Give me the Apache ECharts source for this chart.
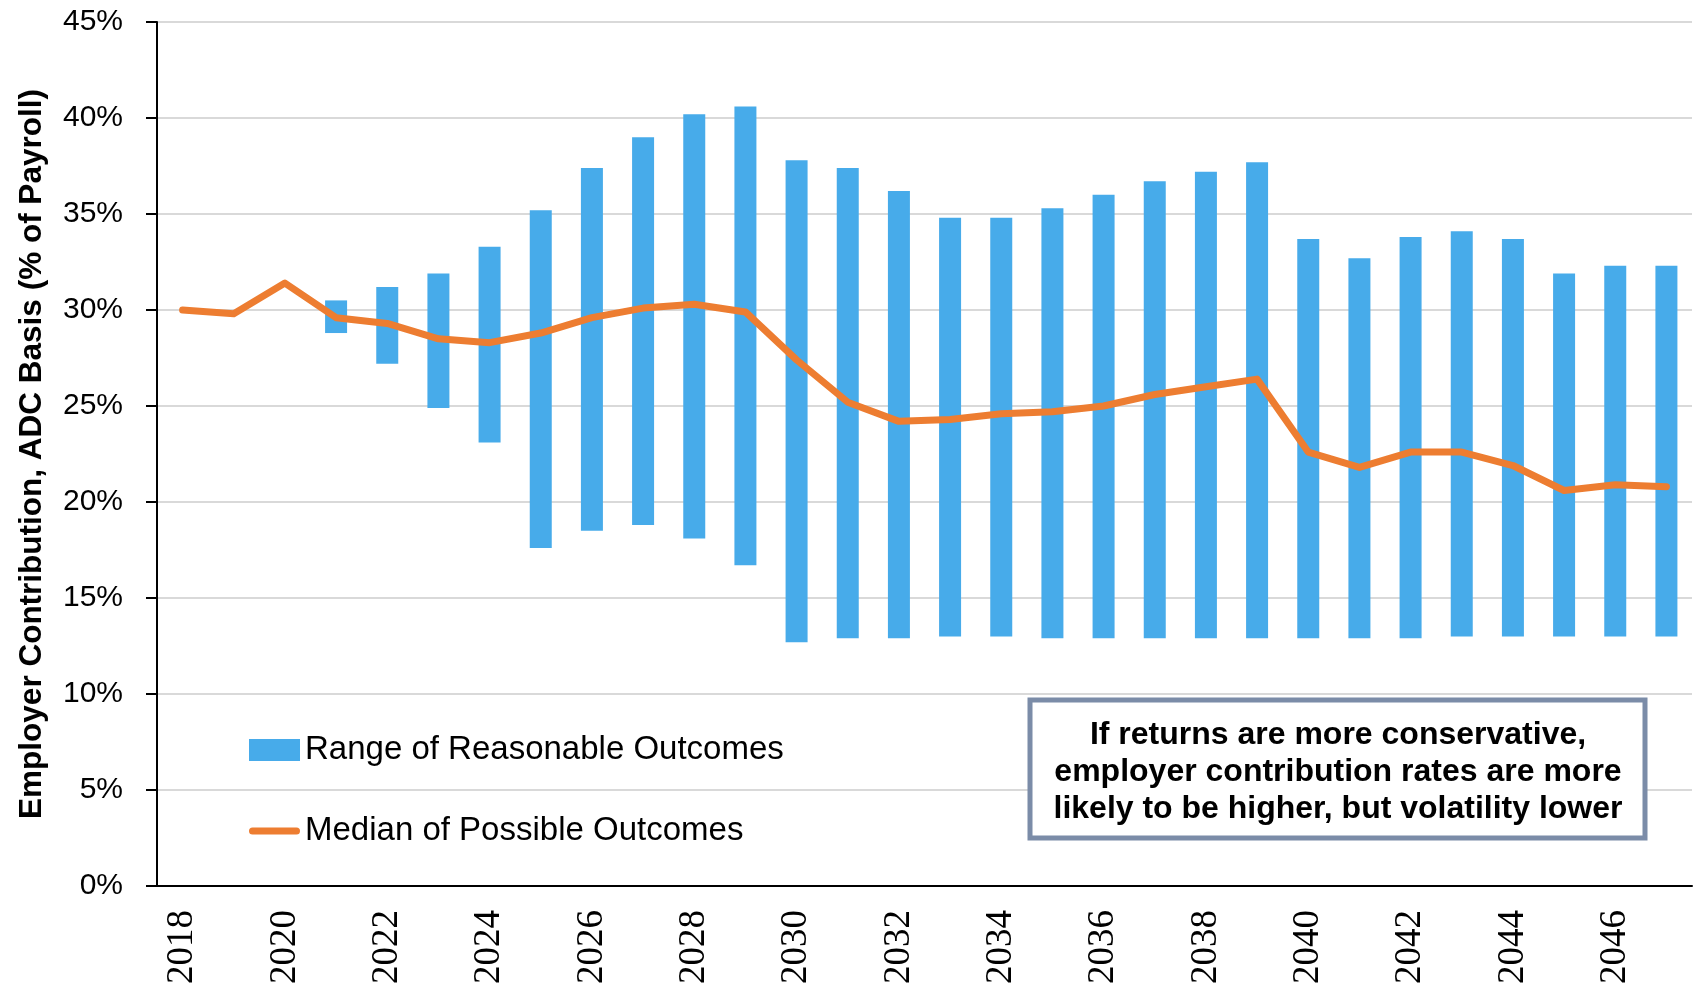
<!DOCTYPE html>
<html>
<head>
<meta charset="utf-8">
<script src="https://cdn.jsdelivr.net/npm/echarts@6/dist/echarts.min.js"></script>
<style>
  html, body { margin: 0; padding: 0; background: #fff; }
  #chart { width: 1696px; height: 987px; }
</style>
</head>
<body>
<div id="chart"></div>
<script>
// years on the x axis
const years = ['2018', '2019', '2020', '2021', '2022', '2023', '2024', '2025', '2026', '2027',
  '2028', '2029', '2030', '2031', '2032', '2033', '2034', '2035', '2036', '2037',
  '2038', '2039', '2040', '2041', '2042', '2043', '2044', '2045', '2046', '2047']

// range of reasonable outcomes (% of payroll), low and high ends
const rangeLow = [null, null, null, 28.8, 27.2, 24.9, 23.1, 17.6, 18.5, 18.8,
  18.1, 16.7, 12.7, 12.9, 12.9, 13.0, 13.0, 12.9, 12.9, 12.9,
  12.9, 12.9, 12.9, 12.9, 12.9, 13.0, 13.0, 13.0, 13.0, 13.0]
const rangeHigh = [null, null, null, 30.5, 31.2, 31.9, 33.3, 35.2, 37.4, 39.0,
  40.2, 40.6, 37.8, 37.4, 36.2, 34.8, 34.8, 35.3, 36.0, 36.7,
  37.2, 37.7, 33.7, 32.7, 33.8, 34.1, 33.7, 31.9, 32.3, 32.3]

// median of possible outcomes
const median = [30.0, 29.8, 31.4, 29.6, 29.3, 28.5, 28.3, 28.8, 29.6, 30.1,
  30.3, 29.9, 27.4, 25.2, 24.2, 24.3, 24.6, 24.7, 25.0, 25.6,
  26.0, 26.4, 22.6, 21.8, 22.6, 22.6, 21.9, 20.6, 20.9, 20.8]

const note = 'If returns are more conservative,\nemployer contribution rates are more\nlikely to be higher, but volatility lower'

const chart = echarts.init(document.getElementById('chart'))

// floating bars = transparent base + visible span
const rangeSpan = rangeHigh.map((h, i) => (h == null ? null : +(h - rangeLow[i]).toFixed(2)))

// thick rounded line for the legend
const lineIcon = 'path://M3.5 0H47.5A3.5 3.5 0 0 1 47.5 7H3.5A3.5 3.5 0 0 1 3.5 0Z'

const option = {
  animation: false,
  grid: { left: 157, right: 4, top: 22, bottom: 98 },
  legend: {
    orient: 'vertical',
    left: 244,
    top: 727,
    itemWidth: 51,
    itemHeight: 22,
    itemGap: 45,
    data: [
      { name: 'Range of Reasonable Outcomes', icon: 'rect' },
      { name: 'Median of Possible Outcomes', icon: lineIcon }
    ],
    textStyle: {
      fontFamily: 'Liberation Sans',
      fontSize: 33,
      lineHeight: 36,
      color: '#000'
    }
  },
  xAxis: {
    type: 'category',
    data: years,
    axisLine: { lineStyle: { color: '#000', width: 2 } },
    axisTick: { interval: 0, length: 13, lineStyle: { color: '#000', width: 2 } },
    axisLabel: {
      interval: 1,
      rotate: 90,
      margin: 24,
      fontFamily: 'Liberation Sans Narrow',
      fontSize: 37,
      color: '#000'
    }
  },
  yAxis: {
    type: 'value',
    min: 0,
    max: 45,
    interval: 5,
    name: 'Employer Contribution, ADC Basis (% of Payroll)',
    nameLocation: 'middle',
    nameGap: 109,
    nameTextStyle: {
      fontFamily: 'Liberation Sans',
      fontWeight: 'bold',
      fontSize: 31.5,
      color: '#000'
    },
    axisLine: { show: true, lineStyle: { color: '#000', width: 2 } },
    axisTick: { show: true, length: 11, lineStyle: { color: '#000', width: 2 } },
    axisLabel: {
      formatter: '{value}%',
      margin: 34,
      fontFamily: 'Liberation Sans',
      fontSize: 30,
      color: '#000'
    },
    splitLine: { lineStyle: { color: '#d9d9d9', width: 2 } }
  },
  series: [
    {
      name: 'base',
      type: 'bar',
      stack: 'range',
      data: rangeLow,
      barWidth: 22,
      itemStyle: { color: 'transparent' },
      silent: true
    },
    {
      name: 'Range of Reasonable Outcomes',
      type: 'bar',
      stack: 'range',
      data: rangeSpan,
      barWidth: 22,
      itemStyle: { color: '#47abea' }
    },
    {
      name: 'Median of Possible Outcomes',
      type: 'line',
      data: median,
      symbol: 'none',
      z: 5,
      itemStyle: { color: '#ed7d31' },
      lineStyle: { color: '#ed7d31', width: 7, cap: 'round', join: 'round' }
    }
  ],
  graphic: [
    {
      type: 'rect',
      shape: { x: 1030, y: 700, width: 615, height: 138 },
      style: { fill: '#fff', stroke: '#7b8ca8', lineWidth: 5 },
      z: 10
    },
    {
      type: 'text',
      x: 1338,
      y: 772,
      style: {
        text: note,
        align: 'center',
        verticalAlign: 'middle',
        font: 'bold 32px "Liberation Sans"',
        lineHeight: 37,
        fill: '#000'
      },
      z: 11
    }
  ]
}

chart.setOption(option)
</script>
</body>
</html>
